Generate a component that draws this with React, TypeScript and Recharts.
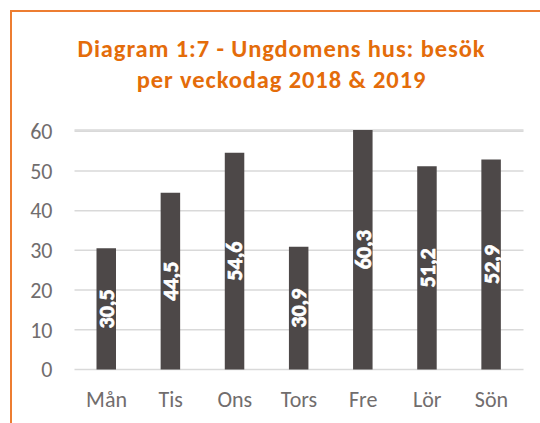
import React from 'react';
import { BarChart, Bar, XAxis, YAxis, CartesianGrid, LabelList } from 'recharts';

const days = ['Mån', 'Tis', 'Ons', 'Tors', 'Fre', 'Lör', 'Sön'];
const visits = [30.5, 44.5, 54.6, 30.9, 60.3, 51.2, 52.9];
const yTicks = [0, 10, 20, 30, 40, 50, 60];

const data = days.map((day, i) => ({ day, visits: visits[i] }));

const FONT = 'Calibri, Carlito, Lato, sans-serif';
const ORANGE = '#E46C0A';
const GREY_TEXT = '#716D6D';

const App = () => {
  return (
    <div style={{ position: 'absolute', left: 0, top: 0, width: 540, height: 423, overflow: 'hidden', background: '#fff', fontFamily: FONT }}>
      {/* orange frame, only top and left edges visible */}
      <div style={{ position: 'absolute', left: 10, top: 10, width: 560, height: 440, borderTop: '2px solid #ED7D31', borderLeft: '2px solid #ED7D31' }} />

      <div style={{ position: 'absolute', left: 0, top: 33.5, width: 563, textAlign: 'center', color: ORANGE, fontWeight: 'bold', fontSize: 24.5, letterSpacing: 0.9, lineHeight: '31px' }}>
        <div>Diagram 1:7 - Ungdomens hus: besök</div>
        <div>per veckodag 2018 &amp; 2019</div>
      </div>

      <div style={{ position: 'absolute', left: 0, top: 0 }}>
        <BarChart width={540} height={423} data={data} margin={{ top: 130, right: 16.5, bottom: 23.5, left: 14.5 }}>
          <CartesianGrid vertical={false} stroke="#D9D9D9" strokeWidth={1.5} />
          <XAxis
            dataKey="day"
            axisLine={false}
            tickLine={false}
            tickMargin={16}
            interval={0}
            tick={{ fill: GREY_TEXT, fontSize: 22, fontFamily: FONT }}
          />
          <YAxis
            domain={[0, 60]}
            ticks={yTicks}
            axisLine={false}
            tickLine={false}
            width={60}
            tickMargin={16}
            tick={{ fill: GREY_TEXT, fontSize: 22, fontFamily: FONT }}
          />
          <Bar dataKey="visits" fill="#4D4848" barSize={19.5} isAnimationActive={false}>
            <LabelList
              dataKey="visits"
              position="center"
              angle={-90}
              formatter={(v: number) => v.toFixed(1).replace('.', ',')}
              stroke="#FFFFFF"
              strokeWidth={0.7}
              style={{ fill: '#FFFFFF', fontWeight: 'bold', fontSize: 22, fontFamily: FONT }}
            />
          </Bar>
        </BarChart>
      </div>
    </div>
  );
};

export default App;
